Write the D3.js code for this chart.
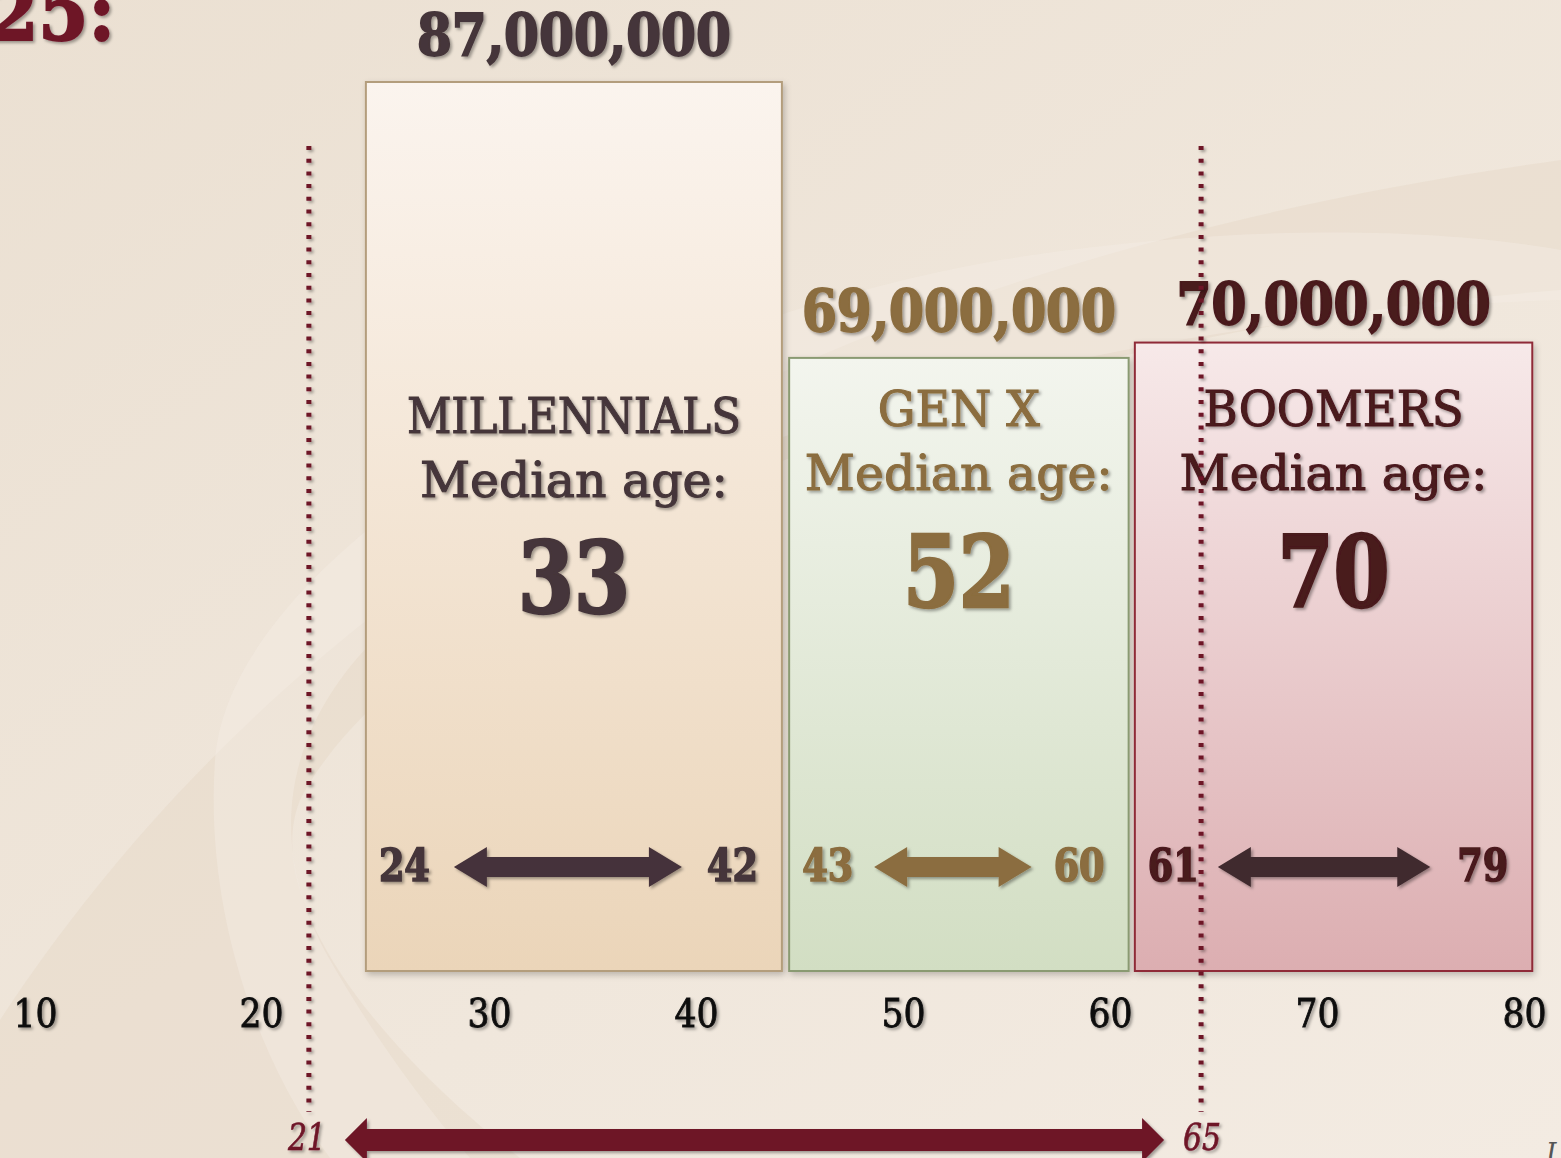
<!DOCTYPE html>
<html>
<head>
<meta charset="utf-8">
<script src="https://cdn.jsdelivr.net/npm/d3@7"></script>
<style>
  body { margin: 0; background: #efe5d9; }
  svg { display: block; }
</style>
</head>
<body>
<div id="chart"></div>
<script>
// generations, populations (millions) and age ranges
var generations = ["MILLENNIALS", "GEN X", "BOOMERS"];
var population = [87, 69, 70];
var populationLabels = ["87,000,000", "69,000,000", "70,000,000"];
var medianAge = [33, 52, 70];
var ageFrom = [24, 43, 61];
var ageTo = [42, 60, 79];
// where each box starts / ends on the age axis
var boxStart = [24.6, 44.5, 61.2];
var boxEnd = [44.15, 60.9, 80.4];
var ageTicks = [10, 20, 30, 40, 50, 60, 70, 80];
// working-age guide lines
var guideAges = [22.1, 64.4];
var guideLabels = ["21", "65"];

var textColors = ["#45363a", "#8b6d3f", "#4a1a1d"];
var arrowColors = ["#45323a", "#8b6d3f", "#3f2a2e"];
var strokeColors = ["#b39d7c", "#8a9a72", "#8f2b37"];
var gradTop = ["#fbf4ee", "#f3f5ee", "#f7e9e9"];
var gradBottom = ["#ebd5b9", "#d2dec3", "#dcaeb1"];
var wine = "#6e1428";

var width = 1561, height = 1158;
var slab = "'DejaVu Serif Condensed', 'DejaVu Serif', serif";

var svg = d3.select("#chart").append("svg")
    .attr("width", width)
    .attr("height", height);

var defs = svg.append("defs");

var bg = defs.append("linearGradient").attr("id", "bg")
    .attr("x1", 0).attr("y1", 0).attr("x2", 1).attr("y2", 1);
bg.append("stop").attr("offset", "0%").attr("stop-color", "#ebe0d2");
bg.append("stop").attr("offset", "60%").attr("stop-color", "#f0e7dc");
bg.append("stop").attr("offset", "100%").attr("stop-color", "#f3ebe2");

var shadow = defs.append("filter").attr("id", "shadow")
    .attr("x", "-10%").attr("y", "-10%").attr("width", "130%").attr("height", "130%");
shadow.append("feDropShadow").attr("dx", 2).attr("dy", 2)
    .attr("stdDeviation", 1.6).attr("flood-color", "#000").attr("flood-opacity", 0.35);

var boxShadow = defs.append("filter").attr("id", "boxshadow")
    .attr("x", "-5%").attr("y", "-5%").attr("width", "115%").attr("height", "115%");
boxShadow.append("feDropShadow").attr("dx", 2).attr("dy", 3)
    .attr("stdDeviation", 3).attr("flood-color", "#000").attr("flood-opacity", 0.22);

generations.forEach(function(g, i) {
    var lg = defs.append("linearGradient").attr("id", "box" + i)
        .attr("x1", 0).attr("y1", 0).attr("x2", 0).attr("y2", 1);
    lg.append("stop").attr("offset", "0%").attr("stop-color", gradTop[i]);
    lg.append("stop").attr("offset", "100%").attr("stop-color", gradBottom[i]);
});

// background + swirl
svg.append("rect").attr("width", width).attr("height", height).attr("fill", "url(#bg)");
svg.append("path")
    .attr("d", "M0,1020 C250,640 700,280 1561,160 L1561,290 C800,350 380,640 300,800 C260,900 380,1050 520,1158 L0,1158 Z")
    .attr("fill", "#e2d1bc").attr("opacity", 0.3);
svg.append("path")
    .attr("d", "M215,760 C230,560 600,330 1000,260 C1250,220 1450,230 1561,250 L1561,300 C1200,310 700,420 420,600 C300,690 250,820 330,960 C370,1030 420,1100 470,1158 L330,1158 C250,1050 205,900 215,760 Z")
    .attr("fill", "#f5eee5").attr("opacity", 0.4);

// scales
var x = d3.scaleLinear()
    .domain([10, 20, 30, 80])
    .range([35, 261, 489, 1524]);

var y = d3.scaleLinear()
    .domain([29, 87])
    .range([971, 82]);

// age axis (labels only)
var xAxis = svg.append("g")
    .attr("transform", "translate(0,1027)")
    .call(d3.axisBottom(x).tickValues(ageTicks).tickSize(0).tickPadding(0));
xAxis.select(".domain").remove();
xAxis.selectAll("text")
    .attr("y", 0).attr("dy", 0)
    .attr("textLength", 44).attr("lengthAdjust", "spacingAndGlyphs")
    .style("font-family", slab)
    .style("font-size", "40px")
    .style("fill", "#111")
    .style("stroke", "#111").style("stroke-width", 0.8)
    .attr("filter", "url(#shadow)");

// boxes
var boxes = svg.append("g");
generations.forEach(function(g, i) {
    var x0 = x(boxStart[i]), x1 = x(boxEnd[i]);
    var cx = (x0 + x1) / 2;
    boxes.append("rect")
        .attr("x", x0).attr("y", y(population[i]))
        .attr("width", x1 - x0).attr("height", y(29) - y(population[i]))
        .attr("fill", "url(#box" + i + ")")
        .attr("stroke", strokeColors[i])
        .attr("stroke-width", 2)
        .attr("filter", "url(#boxshadow)");

    // population label on top
    svg.append("text")
        .attr("x", cx).attr("y", y(population[i]) - (i == 2 ? 19 : 27))
        .attr("text-anchor", "middle")
        .attr("textLength", 314).attr("lengthAdjust", "spacingAndGlyphs")
        .style("font-family", slab).style("font-weight", "bold")
        .style("font-size", "58px")
        .style("fill", textColors[i])
        .style("stroke", textColors[i]).style("stroke-width", 1.8)
        .attr("filter", "url(#shadow)")
        .text(populationLabels[i]);

    var lab = svg.append("g").attr("filter", "url(#shadow)")
        .style("fill", textColors[i]).style("font-family", slab)
        .style("stroke", textColors[i]);
    var nameW = [334, 162, 260];
    lab.append("text")
        .attr("x", cx).attr("y", i == 0 ? 433 : 426)
        .attr("text-anchor", "middle")
        .attr("textLength", nameW[i]).attr("lengthAdjust", "spacingAndGlyphs")
        .style("font-size", "49px").style("stroke-width", 1)
        .text(g);
    lab.append("text")
        .attr("x", cx).attr("y", i == 0 ? 497 : 490)
        .attr("text-anchor", "middle")
        .attr("textLength", 308).attr("lengthAdjust", "spacingAndGlyphs")
        .style("font-size", "49px").style("stroke-width", 1)
        .text("Median age:");
    lab.append("text")
        .attr("x", cx).attr("y", i == 0 ? 613 : 607)
        .attr("text-anchor", "middle")
        .attr("textLength", 112).attr("lengthAdjust", "spacingAndGlyphs")
        .style("font-size", "100px").style("font-weight", "bold")
        .style("stroke-width", 2.5)
        .text(medianAge[i]);

    // age range: label, double arrow, label
    var ay = 867;
    var rg = svg.append("g").attr("filter", "url(#shadow)")
        .style("stroke", textColors[i]);
    rg.append("text")
        .attr("x", x0 + 13).attr("y", ay + 14)
        .attr("textLength", 51).attr("lengthAdjust", "spacingAndGlyphs")
        .style("font-family", slab).style("font-weight", "bold").style("font-size", "44px")
        .style("fill", textColors[i]).style("stroke-width", 1.5)
        .text(ageFrom[i]);
    rg.append("text")
        .attr("x", x1 - 24).attr("y", ay + 14)
        .attr("text-anchor", "end")
        .attr("textLength", 51).attr("lengthAdjust", "spacingAndGlyphs")
        .style("font-family", slab).style("font-weight", "bold").style("font-size", "44px")
        .style("fill", textColors[i]).style("stroke-width", 1.5)
        .text(ageTo[i]);
    var a0 = x0 + 88, a1 = x1 - 100;
    if (i == 1) { a0 = x0 + 85; a1 = x1 - 97; }
    if (i == 2) { a0 = x0 + 83; a1 = x1 - 102; }
    rg.append("path")
        .attr("d", doubleArrow(a0, a1, ay, 10, 20, 33))
        .attr("fill", arrowColors[i]).style("stroke", "none");
});

function doubleArrow(xa, xb, cy, shaft, head, headLen) {
    return "M" + xa + "," + cy +
        "L" + (xa + headLen) + "," + (cy - head) +
        "L" + (xa + headLen) + "," + (cy - shaft) +
        "L" + (xb - headLen) + "," + (cy - shaft) +
        "L" + (xb - headLen) + "," + (cy - head) +
        "L" + xb + "," + cy +
        "L" + (xb - headLen) + "," + (cy + head) +
        "L" + (xb - headLen) + "," + (cy + shaft) +
        "L" + (xa + headLen) + "," + (cy + shaft) +
        "L" + (xa + headLen) + "," + (cy + head) + "Z";
}

// dotted guide lines
svg.append("g").attr("filter", "url(#shadow)")
    .selectAll("line").data(guideAges).join("line")
    .attr("x1", function(d) { return x(d); })
    .attr("x2", function(d) { return x(d); })
    .attr("y1", 146).attr("y2", 1112)
    .attr("stroke", wine).attr("stroke-width", 5)
    .attr("stroke-dasharray", "4 8.7");

// working-age arrow along the bottom
var gl = x(guideAges[0]), gr = x(guideAges[1]);
svg.append("path")
    .attr("d", doubleArrow(gl + 36, gr - 37, 1140, 11, 22, 22))
    .attr("fill", wine)
    .attr("filter", "url(#shadow)");
svg.append("g").attr("filter", "url(#shadow)")
    .selectAll("text").data(guideAges).join("text")
    .attr("x", function(d, i) { return x(d) + (i == 0 ? -2 : 1); })
    .attr("y", 1150)
    .attr("text-anchor", "middle")
    .attr("textLength", 38).attr("lengthAdjust", "spacingAndGlyphs")
    .style("font-family", slab).style("font-style", "italic")
    .style("font-size", "38px").style("fill", wine)
    .style("stroke", wine).style("stroke-width", 0.6)
    .text(function(d, i) { return guideLabels[i]; });

// title fragment, top left
svg.append("text")
    .attr("x", 115).attr("y", 40)
    .attr("text-anchor", "end")
    .style("font-family", slab).style("font-weight", "bold")
    .style("font-size", "80px").style("fill", wine)
    .style("stroke", wine).style("stroke-width", 2)
    .attr("filter", "url(#shadow)")
    .text("2025:");

// source note, cut off at right
svg.append("text")
    .attr("x", 1546).attr("y", 1164)
    .style("font-family", slab).style("font-style", "italic")
    .style("font-size", "30px").style("fill", "#555")
    .text("U.S. Census Bureau");
</script>
</body>
</html>
